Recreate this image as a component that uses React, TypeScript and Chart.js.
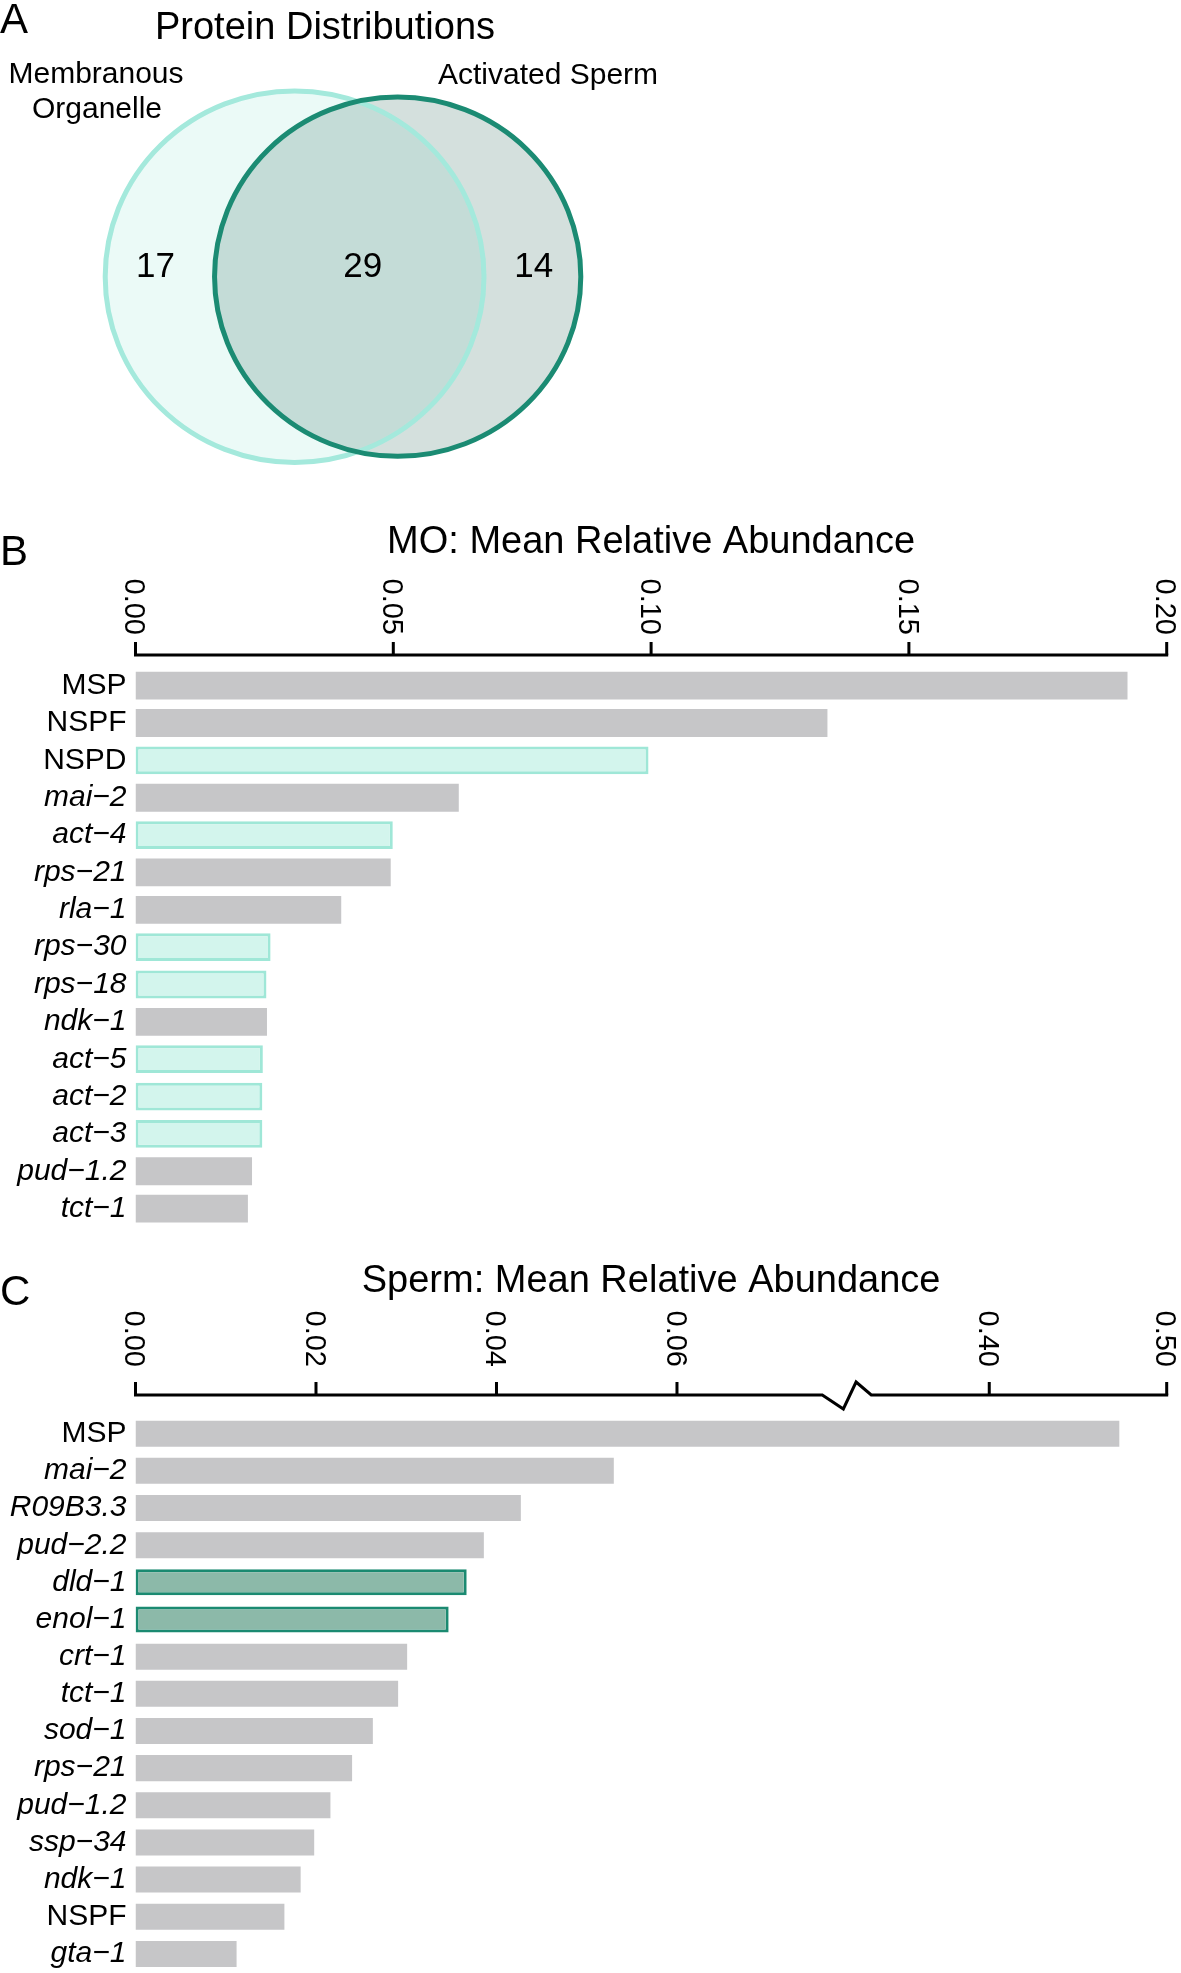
import React, { useEffect, useRef } from 'react';
import { Chart, registerables, LinearScale } from 'chart.js';

Chart.register(...registerables);

// ---------------- Data ----------------
const vennSetLabels = [['Membranous', 'Organelle'], ['Activated Sperm']];
const vennOnlyMO = 17;
const vennShared = 29;
const vennOnlySperm = 14;

const moLabels = ['MSP', 'NSPF', 'NSPD', 'mai−2', 'act−4', 'rps−21', 'rla−1', 'rps−30', 'rps−18', 'ndk−1', 'act−5', 'act−2', 'act−3', 'pud−1.2', 'tct−1'];
const moValues = [0.1924, 0.1342, 0.0995, 0.0627, 0.0499, 0.0495, 0.0399, 0.0262, 0.0254, 0.0255, 0.0247, 0.0246, 0.0246, 0.0226, 0.0218];
const moOnlyProteins = ['NSPD', 'act−4', 'rps−30', 'rps−18', 'act−5', 'act−2', 'act−3'];
const moTicks = [0, 0.05, 0.1, 0.15, 0.2];

const spLabels = ['MSP', 'mai−2', 'R09B3.3', 'pud−2.2', 'dld−1', 'enol−1', 'crt−1', 'tct−1', 'sod−1', 'rps−21', 'pud−1.2', 'ssp−34', 'ndk−1', 'NSPF', 'gta−1'];
const spValues = [0.4733, 0.0530, 0.0427, 0.0386, 0.0367, 0.0347, 0.0301, 0.0291, 0.0263, 0.0240, 0.0216, 0.0198, 0.0183, 0.0165, 0.0112];
const spOnlyProteins = ['dld−1', 'enol−1'];
const spTicks = [0, 0.02, 0.04, 0.06, 0.4, 0.5];
const spBreak = [0.0761, 0.3335];

const uprightNames = ['MSP', 'NSPF', 'NSPD'];

// ---------------- Style / layout ----------------
const FONT = '"Liberation Sans", Arial, Helvetica, sans-serif';
const BREAK_FRAC = [0.666, 0.7135];
const GRAY = '#c6c6c8';

Chart.defaults.font.family = FONT;

class BrokenLinearScale extends LinearScale {
  static id = 'brokenLinear';
  static defaults = LinearScale.defaults;
  toDecimal(value: number) {
    const lo = spBreak[0], hi = spBreak[1];
    const fl = BREAK_FRAC[0], fh = BREAK_FRAC[1];
    const min = (this as any).min, max = (this as any).max;
    if (value <= lo) return ((value - min) / (lo - min)) * fl;
    if (value >= hi) return fh + ((value - hi) / (max - hi)) * (1 - fh);
    return fl + ((value - lo) / (hi - lo)) * (fh - fl);
  }
  getPixelForValue(value: any) {
    if (value === null || value === undefined || isNaN(value)) return NaN;
    return (this as any).getPixelForDecimal(this.toDecimal(+value));
  }
  getValueForPixel(pixel: number) {
    const d = (this as any).getDecimalForPixel(pixel);
    const lo = spBreak[0], hi = spBreak[1];
    const fl = BREAK_FRAC[0], fh = BREAK_FRAC[1];
    const min = (this as any).min, max = (this as any).max;
    if (d <= fl) return min + (d / fl) * (lo - min);
    if (d >= fh) return hi + ((d - fh) / (1 - fh)) * (max - hi);
    return lo + ((d - fl) / (fh - fl)) * (hi - lo);
  }
}
Chart.register(BrokenLinearScale as any);

// ---------------- Venn geometry (area proportional) ----------------
function lensArea(d: number, r1: number, r2: number) {
  if (d >= r1 + r2) return 0;
  if (d <= Math.abs(r1 - r2)) return Math.PI * Math.min(r1, r2) ** 2;
  const a = r1 * r1 * Math.acos((d * d + r1 * r1 - r2 * r2) / (2 * d * r1));
  const b = r2 * r2 * Math.acos((d * d + r2 * r2 - r1 * r1) / (2 * d * r2));
  const c = 0.5 * Math.sqrt((-d + r1 + r2) * (d + r1 - r2) * (d - r1 + r2) * (d + r1 + r2));
  return a + b - c;
}
function vennGeometry() {
  const t1 = vennOnlyMO + vennShared;
  const t2 = vennOnlySperm + vennShared;
  const r1 = 1;
  const r2 = Math.sqrt(t2 / t1);
  const target = (vennShared / t1) * Math.PI;
  let lo = Math.abs(r1 - r2), hi = r1 + r2;
  for (let i = 0; i < 80; i++) {
    const mid = (lo + hi) / 2;
    if (lensArea(mid, r1, r2) > target) lo = mid; else hi = mid;
  }
  return { r1, r2, d: (lo + hi) / 2 };
}

const vennCountX = [-0.734, 0.36, 1.263];

function makeVenn(canvas: HTMLCanvasElement) {
  const g = vennGeometry();
  const plugin = {
    id: 'vennDraw',
    beforeDatasetsDraw(chart: any) {
      const { ctx } = chart;
      const x = chart.scales.x, y = chart.scales.y;
      const path = (cx: number, r: number) => {
        const px = x.getPixelForValue(cx), py = y.getPixelForValue(0);
        const rx = x.getPixelForValue(cx + r) - px;
        const ry = py - y.getPixelForValue(r);
        ctx.beginPath();
        ctx.ellipse(px, py, rx, ry, 0, 0, Math.PI * 2);
      };
      ctx.save();
      path(0, g.r1);
      ctx.fillStyle = 'rgba(163,233,220,0.22)';
      ctx.fill();
      path(g.d, g.r2);
      ctx.fillStyle = 'rgba(40,100,85,0.2)';
      ctx.fill();
      ctx.lineWidth = 5;
      path(0, g.r1);
      ctx.strokeStyle = '#a4e9dc';
      ctx.stroke();
      path(g.d, g.r2);
      ctx.strokeStyle = '#1b8b73';
      ctx.stroke();
      ctx.restore();
    },
    afterDraw(chart: any) {
      const { ctx } = chart;
      const x = chart.scales.x, y = chart.scales.y;
      ctx.save();
      ctx.fillStyle = '#000';
      ctx.textBaseline = 'alphabetic';
      ctx.textAlign = 'left';
      ctx.font = `42px ${FONT}`;
      ctx.fillText('A', 0, 33);
      ctx.textAlign = 'center';
      ctx.font = `38px ${FONT}`;
      ctx.fillText('Protein Distributions', 325, 39);
      ctx.font = `30px ${FONT}`;
      ctx.fillText(vennSetLabels[0][0], 96, 83);
      ctx.fillText(vennSetLabels[0][1], 97, 118);
      ctx.fillText(vennSetLabels[1][0], 548, 84);
      ctx.font = `35px ${FONT}`;
      const counts = [vennOnlyMO, vennShared, vennOnlySperm];
      counts.forEach((c, i) => {
        ctx.fillText(String(c), x.getPixelForValue(vennCountX[i]), y.getPixelForValue(0));
      });
      ctx.restore();
    },
  };
  return new Chart(canvas, {
    type: 'scatter',
    data: {
      datasets: [{ data: [{ x: 0, y: 0 }, { x: g.d, y: 0 }], pointRadius: 0 }],
    },
    options: {
      responsive: false,
      animation: false,
      events: [],
      layout: { padding: 0 },
      plugins: { legend: { display: false }, tooltip: { enabled: false }, title: { display: false } },
      scales: {
        x: { type: 'linear', display: false, min: -1.5554, max: 4.68 },
        y: { type: 'linear', display: false, min: -1.2019, max: 1.4892 },
      },
    },
    plugins: [plugin],
  } as any);
}

interface BarCfg {
  labels: string[];
  values: number[];
  highlight: string[];
  hiFill: string;
  hiBorder: string;
  scaleType: string;
  max: number;
  ticks: number[];
  title: string;
  letter: string;
  padTop: number;
  padBottom: number;
  barPct: number;
  axisY: number;
  tickLen: number;
  labelEnd: number;
  titleY: number;
  letterY: number;
  broken: boolean;
}

function makeBars(canvas: HTMLCanvasElement, cfg: BarCfg) {
  const axisPlugin = {
    id: 'topAxis',
    afterDraw(chart: any) {
      const { ctx, chartArea } = chart;
      const x = chart.scales.x;
      const y0 = cfg.axisY;
      ctx.save();
      ctx.strokeStyle = '#000';
      ctx.lineWidth = 3;
      ctx.lineJoin = 'miter';
      const p0 = x.getPixelForValue(0);
      const p1 = x.getPixelForValue(cfg.max);
      ctx.beginPath();
      ctx.moveTo(p0 - 1.5, y0);
      if (cfg.broken) {
        const gs = x.getPixelForValue(spBreak[0]);
        const ge = x.getPixelForValue(spBreak[1]);
        const w = ge - gs;
        ctx.lineTo(gs, y0);
        ctx.lineTo(gs + 0.43 * w, y0 + 14);
        ctx.lineTo(gs + 0.69 * w, y0 - 13);
        ctx.lineTo(ge, y0);
      }
      ctx.lineTo(p1 + 1.5, y0);
      ctx.stroke();
      ctx.beginPath();
      cfg.ticks.forEach((t) => {
        const p = x.getPixelForValue(t);
        ctx.moveTo(p, y0);
        ctx.lineTo(p, y0 - cfg.tickLen);
      });
      ctx.stroke();
      ctx.fillStyle = '#000';
      const fs = 29;
      ctx.font = `${fs}px ${FONT}`;
      cfg.ticks.forEach((t) => {
        const p = x.getPixelForValue(t);
        ctx.save();
        ctx.translate(p - 0.358 * fs, cfg.labelEnd);
        ctx.rotate(Math.PI / 2);
        ctx.textAlign = 'right';
        ctx.textBaseline = 'alphabetic';
        ctx.fillText(t.toFixed(2), 0, 0);
        ctx.restore();
      });
      ctx.textAlign = 'center';
      ctx.textBaseline = 'alphabetic';
      ctx.font = `38px ${FONT}`;
      ctx.fillText(cfg.title, (chartArea.left + chartArea.right) / 2, cfg.titleY);
      ctx.textAlign = 'left';
      ctx.font = `42px ${FONT}`;
      ctx.fillText(cfg.letter, 0, cfg.letterY);
      ctx.restore();
    },
  };
  const isHi = (l: string) => cfg.highlight.includes(l);
  return new Chart(canvas, {
    type: 'bar',
    data: {
      labels: cfg.labels,
      datasets: [
        {
          data: cfg.values,
          backgroundColor: cfg.labels.map((l) => (isHi(l) ? cfg.hiFill : GRAY)),
          borderColor: cfg.labels.map((l) => (isHi(l) ? cfg.hiBorder : GRAY)),
          borderWidth: cfg.labels.map((l) => (isHi(l) ? 3 : 0)),
          borderSkipped: false,
          barPercentage: cfg.barPct,
          categoryPercentage: 1,
        },
      ],
    },
    options: {
      indexAxis: 'y',
      responsive: false,
      animation: false,
      events: [],
      layout: { padding: { left: 0, right: 14.3, top: cfg.padTop, bottom: cfg.padBottom } },
      plugins: { legend: { display: false }, tooltip: { enabled: false }, title: { display: false } },
      scales: {
        x: { type: cfg.scaleType, display: false, min: 0, max: cfg.max },
        y: {
          type: 'category',
          grid: { display: false, drawTicks: false, tickLength: 0 },
          border: { display: false },
          afterFit: (scale: any) => {
            scale.width = 135.5;
            scale.paddingTop = 0;
            scale.paddingBottom = 0;
          },
          ticks: {
            autoSkip: false,
            padding: 9,
            color: '#000',
            font: (c: any) => ({
              family: FONT,
              size: 30,
              style: uprightNames.includes(cfg.labels[c.index]) ? 'normal' : 'italic',
            }),
          },
        },
      },
    },
    plugins: [axisPlugin],
  } as any);
}

export default function App() {
  const aRef = useRef<HTMLCanvasElement>(null);
  const bRef = useRef<HTMLCanvasElement>(null);
  const cRef = useRef<HTMLCanvasElement>(null);

  useEffect(() => {
    const charts: Chart[] = [];
    if (aRef.current) charts.push(makeVenn(aRef.current));
    if (bRef.current)
      charts.push(
        makeBars(bRef.current, {
          labels: moLabels,
          values: moValues,
          highlight: moOnlyProteins,
          hiFill: '#d3f5ed',
          hiBorder: '#9fe7d7',
          scaleType: 'linear',
          max: 0.2,
          ticks: moTicks,
          title: 'MO: Mean Relative Abundance',
          letter: 'B',
          padTop: 167,
          padBottom: 2.7,
          barPct: 0.745,
          axisY: 155,
          tickLen: 13,
          labelEnd: 135,
          titleY: 53,
          letterY: 65,
          broken: false,
        })
      );
    if (cRef.current)
      charts.push(
        makeBars(cRef.current, {
          labels: spLabels,
          values: spValues,
          highlight: spOnlyProteins,
          hiFill: '#8cb9a9',
          hiBorder: '#1b8a71',
          scaleType: 'brokenLinear',
          max: 0.5,
          ticks: spTicks,
          title: 'Sperm: Mean Relative Abundance',
          letter: 'C',
          padTop: 185.1,
          padBottom: 0.5,
          barPct: 0.7,
          axisY: 165,
          tickLen: 13,
          labelEnd: 137,
          titleY: 62,
          letterY: 75,
          broken: true,
        })
      );
    return () => charts.forEach((c) => c.destroy());
  }, []);

  return (
    <div style={{ position: 'absolute', left: 0, top: 0, width: 1181, height: 1973, background: '#fff', overflow: 'hidden' }}>
      <canvas ref={aRef} width={1181} height={500} style={{ position: 'absolute', left: 0, top: 0 }} />
      <canvas ref={bRef} width={1181} height={730} style={{ position: 'absolute', left: 0, top: 500 }} />
      <canvas ref={cRef} width={1181} height={743} style={{ position: 'absolute', left: 0, top: 1230 }} />
    </div>
  );
}
